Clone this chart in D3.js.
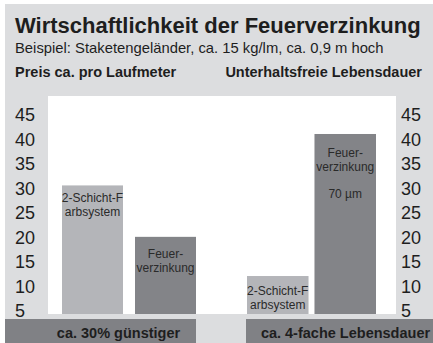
<!DOCTYPE html>
<html>
<head>
<meta charset="utf-8">
<script src="https://cdn.jsdelivr.net/npm/d3@7"></script>
<style>
  html, body { margin: 0; padding: 0; background: #ffffff; }
  svg { display: block; font-family: "Liberation Sans", Arial, Helvetica, sans-serif; }
</style>
</head>
<body>
<div id="chart"></div>
<script>
// ---- data -------------------------------------------------------------
const title = "Wirtschaftlichkeit der Feuerverzinkung";
const subtitle = "Beispiel: Staketengeländer, ca. 15 kg/lm, ca. 0,9 m hoch";
const panelTitles = ["Preis ca. pro Laufmeter", "Unterhaltsfreie Lebensdauer"];
const categories = ["2-Schicht-Farbsystem", "Feuerverzinkung"];
const priceValues = [30.5, 20];     // Preis pro Laufmeter
const lifeValues = [12, 41];        // unterhaltsfreie Lebensdauer
const priceLabels = [["2-Schicht-F", "arbsystem"], ["Feuer-", "verzinkung"]];
const lifeLabels = [["2-Schicht-F", "arbsystem"], ["Feuer-", "verzinkung", "", "70 µm"]];
const tickValues = [5, 10, 15, 20, 25, 30, 35, 40, 45];
const bandLabels = ["ca. 30% günstiger", "ca. 4-fache Lebensdauer"];

// ---- layout -----------------------------------------------------------
const W = 433, H = 343;
const colors = {
  frame: "#dcdddf", plot: "#ffffff", light: "#b4b5b9",
  dark: "#838488", band: "#808185", text: "#1e1e1e"
};
const plot = { x0: 48, x1: 396, y0: 96, y1: 314 };
const labelPad = [[17, 21], [19, 23]];

const svg = d3.select("#chart").append("svg")
  .attr("width", W).attr("height", H);

svg.append("rect").attr("x", 5).attr("y", 4)
  .attr("width", W - 5).attr("height", H - 4).attr("fill", colors.frame);

svg.append("text").attr("x", 15).attr("y", 33)
  .attr("font-size", 22).attr("font-weight", "bold").attr("fill", colors.text)
  .text(title);
svg.append("text").attr("x", 15).attr("y", 53)
  .attr("font-size", 14.8).attr("fill", colors.text)
  .text(subtitle);
svg.append("text").attr("x", 15).attr("y", 77)
  .attr("font-size", 14.5).attr("font-weight", "bold").attr("fill", colors.text)
  .text(panelTitles[0]);
svg.append("text").attr("x", 422).attr("y", 77).attr("text-anchor", "end")
  .attr("font-size", 14.5).attr("font-weight", "bold").attr("fill", colors.text)
  .text(panelTitles[1]);

// white plotting area
svg.append("rect").attr("x", plot.x0).attr("y", plot.y0)
  .attr("width", plot.x1 - plot.x0).attr("height", plot.y1 - plot.y0)
  .attr("fill", colors.plot);

svg.append("clipPath").attr("id", "plotClip").append("rect")
  .attr("x", plot.x0).attr("y", plot.y0)
  .attr("width", plot.x1 - plot.x0).attr("height", plot.y1 - plot.y0);

// shared value scale
const y = d3.scaleLinear().domain([0, 45]).range([334.8, 114.4]);

// tick labels on both sides
const leftAxis = d3.axisLeft(y).tickValues(tickValues).tickSize(0).tickPadding(0);
const rightAxis = d3.axisRight(y).tickValues(tickValues).tickSize(0).tickPadding(0);

function styleAxis(g, anchor) {
  g.select(".domain").remove();
  g.selectAll("text")
    .attr("x", 0).attr("dy", "0.35em")
    .attr("text-anchor", anchor)
    .attr("font-size", 18)
    .attr("font-family", "'Liberation Sans', Arial, Helvetica, sans-serif")
    .attr("fill", colors.text);
}
svg.append("g").attr("transform", "translate(15,0)").call(leftAxis)
  .call(g => styleAxis(g, "start"));
svg.append("g").attr("transform", "translate(401,0)").call(rightAxis)
  .call(g => styleAxis(g, "start"));

// two panels of bars
const panels = [
  { values: priceValues, labels: priceLabels, range: [62, 196], inner: 12 / 73 },
  { values: lifeValues, labels: lifeLabels, range: [247, 376], inner: 6 / 68 }
];
const fills = [colors.light, colors.dark];

panels.forEach((p, pi) => {
  const x = d3.scaleBand().domain(categories).range(p.range)
    .paddingInner(p.inner).paddingOuter(0);
  const g = svg.append("g");
  g.append("g").attr("clip-path", "url(#plotClip)")
    .selectAll("rect").data(categories).join("rect")
    .attr("x", d => x(d))
    .attr("y", (d, i) => y(p.values[i]))
    .attr("width", x.bandwidth())
    .attr("height", (d, i) => y(0) - y(p.values[i]))
    .attr("fill", (d, i) => fills[i]);

  categories.forEach((c, i) => {
    const t = g.append("text")
      .attr("text-anchor", "middle")
      .attr("font-size", 12)
      .attr("fill", "#2a2a2a");
    p.labels[i].forEach((line, li) => {
      t.append("tspan")
        .attr("x", x(c) + x.bandwidth() / 2)
        .attr("y", y(p.values[i]) + labelPad[pi][i] + li * 13.7)
        .text(line);
    });
  });
});

// summary bands
const bands = [
  { x0: 5, x1: 196, cx: 118.5 },
  { x0: 246, x1: W, cx: 345.5 }
];
bands.forEach((b, i) => {
  svg.append("rect").attr("x", b.x0).attr("y", 319)
    .attr("width", b.x1 - b.x0).attr("height", H - 319)
    .attr("fill", colors.band);
  svg.append("text").attr("x", b.cx).attr("y", 338)
    .attr("text-anchor", "middle")
    .attr("font-size", 14.5).attr("font-weight", "bold")
    .attr("fill", colors.text)
    .text(bandLabels[i]);
});
</script>
</body>
</html>
